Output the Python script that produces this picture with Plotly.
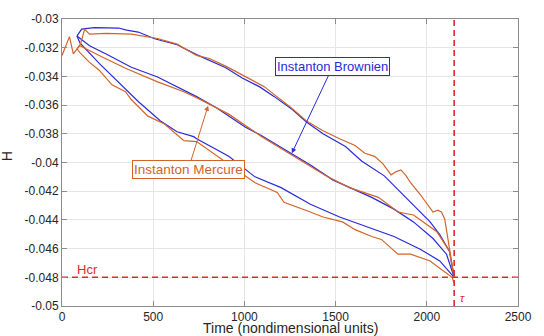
import plotly.graph_objects as go

# ---- data ----
brown_top_t = [82, 108, 178, 311, 354, 418, 508, 631, 738, 807, 898, 988, 1084, 1164, 1255, 1340, 1431, 1554, 1644, 1767, 1858, 1948, 2018, 2071, 2124, 2150]
brown_top_h = [-0.03118, -0.0307, -0.0306, -0.03063, -0.03077, -0.03091, -0.03138, -0.03179, -0.03248, -0.03288, -0.0334, -0.03411, -0.03473, -0.03541, -0.03623, -0.03718, -0.038, -0.03889, -0.03991, -0.04093, -0.04209, -0.04325, -0.04414, -0.04502, -0.04618, -0.048]

brown_mid_t = [82, 151, 258, 380, 524, 631, 738, 844, 1004, 1095, 1255, 1362, 1484, 1607, 1698, 1820, 1927, 2034, 2108, 2150]
brown_mid_h = [-0.03118, -0.03186, -0.03254, -0.03336, -0.03404, -0.03473, -0.03541, -0.03616, -0.03752, -0.03814, -0.03936, -0.04018, -0.04121, -0.04189, -0.04243, -0.04325, -0.04414, -0.0453, -0.04639, -0.048]

brown_low_t = [82, 98, 204, 295, 418, 540, 631, 722, 738, 914, 1058, 1201, 1362, 1522, 1698, 1820, 1964, 2071, 2150]
brown_low_h = [-0.03118, -0.03166, -0.03309, -0.03425, -0.03575, -0.03711, -0.03786, -0.0382, -0.03834, -0.03957, -0.041, -0.04175, -0.04291, -0.0438, -0.04461, -0.04516, -0.04604, -0.04686, -0.048]

merc_top_t = [0, 41, 62, 83, 101, 124, 151, 242, 380, 524, 631, 738, 808, 900, 988, 1111, 1164, 1255, 1340, 1431, 1522, 1607, 1660, 1714, 1760, 1804, 1830, 1858, 1885, 1911, 1964, 2034, 2060, 2080, 2098, 2124, 2150]
merc_top_h = [-0.03254, -0.03123, -0.03243, -0.03209, -0.03175, -0.03072, -0.03106, -0.031, -0.03106, -0.03136, -0.03175, -0.03254, -0.03275, -0.0333, -0.03391, -0.03473, -0.03527, -0.03616, -0.03711, -0.03779, -0.03835, -0.03882, -0.03936, -0.03957, -0.0401, -0.04086, -0.04065, -0.04052, -0.0409, -0.04141, -0.04223, -0.04345, -0.04332, -0.04345, -0.04393, -0.04598, -0.048]

merc_mid_t = [83, 98, 204, 348, 524, 668, 738, 914, 1095, 1271, 1447, 1575, 1607, 1735, 1842, 1927, 2055, 2124, 2150]
merc_mid_h = [-0.03209, -0.03186, -0.03254, -0.03343, -0.03438, -0.03507, -0.03548, -0.03663, -0.0382, -0.03957, -0.04093, -0.04175, -0.04189, -0.04243, -0.04345, -0.04366, -0.04482, -0.04618, -0.048]

merc_low_t = [83, 98, 151, 204, 274, 348, 380, 471, 562, 668, 738, 1004, 1058, 1180, 1217, 1362, 1431, 1538, 1607, 1698, 1751, 1842, 1911, 2018, 2108, 2140, 2150]
merc_low_h = [-0.03209, -0.03234, -0.03302, -0.03357, -0.03459, -0.03507, -0.03561, -0.03677, -0.03732, -0.03848, -0.03854, -0.04093, -0.04141, -0.04209, -0.04277, -0.04345, -0.0438, -0.04414, -0.04468, -0.04516, -0.04536, -0.04639, -0.04639, -0.04686, -0.04775, -0.04802, -0.04843]

h_cr = -0.048
tau = 2150
x_ticks = [0, 500, 1000, 1500, 2000, 2500]
y_ticks = [-0.05, -0.048, -0.046, -0.044, -0.042, -0.04, -0.038, -0.036, -0.034, -0.032, -0.03]
y_tick_text = ["-0.05", "-0.048", "-0.046", "-0.044", "-0.042", "-0.04", "-0.038", "-0.036", "-0.034", "-0.032", "-0.03"]

BLUE = "#2a2ad8"
ORANGE = "#d2642a"
RED = "#e3262b"

fig = go.Figure()
for t, h in [(brown_top_t, brown_top_h), (brown_mid_t, brown_mid_h), (brown_low_t, brown_low_h)]:
    fig.add_trace(go.Scatter(x=t, y=h, mode="lines", line=dict(color=BLUE, width=1.2), showlegend=False))
for t, h in [(merc_top_t, merc_top_h), (merc_mid_t, merc_mid_h), (merc_low_t, merc_low_h)]:
    fig.add_trace(go.Scatter(x=t, y=h, mode="lines", line=dict(color=ORANGE, width=1.2), showlegend=False))

# red dashed critical lines
fig.add_trace(go.Scatter(x=[0, 2500], y=[h_cr, h_cr], mode="lines",
                         line=dict(color=RED, width=1.6, dash="6px,4px"), showlegend=False))
fig.add_trace(go.Scatter(x=[tau, tau], y=[-0.05, -0.03], mode="lines",
                         line=dict(color=RED, width=1.6, dash="6px,4px"), showlegend=False))

font_main = "Liberation Sans, Arial, Helvetica, sans-serif"

fig.add_annotation(x=1260, y=-0.03936, xref="x", yref="y", text="Instanton Brownien",
                   showarrow=True, ax=41, ay=-87, arrowhead=2, arrowsize=1, arrowwidth=1,
                   arrowcolor=BLUE, font=dict(color=BLUE, size=13, family=font_main),
                   bordercolor=BLUE, borderwidth=1, borderpad=1, bgcolor="white")
fig.add_annotation(x=801, y=-0.03605, xref="x", yref="y", text="Instanton Mercure",
                   showarrow=True, ax=-20, ay=64, arrowhead=2, arrowsize=1, arrowwidth=1,
                   arrowcolor=ORANGE, font=dict(color=ORANGE, size=13.5, family=font_main),
                   bordercolor=ORANGE, borderwidth=1, borderpad=1, bgcolor="white")
fig.add_annotation(x=70, y=-0.04745, xref="x", yref="y", text="Hcr", showarrow=False,
                   xanchor="left", font=dict(color=RED, size=13, family=font_main))
fig.add_annotation(x=2195, y=-0.04945, xref="x", yref="y", text="<i>τ</i>", showarrow=False,
                   font=dict(color=RED, size=11, family=font_main))
fig.add_annotation(x=0.5, y=-0.075, xref="paper", yref="paper", text="Time (nondimensional units)",
                   showarrow=False, yanchor="middle", font=dict(color="#262626", size=14, family=font_main))
fig.add_annotation(x=-0.1207, y=0.522, xref="paper", yref="paper", text="H", textangle=-90,
                   showarrow=False, xanchor="center", font=dict(color="#262626", size=14, family=font_main))

axis_common = dict(showgrid=True, gridcolor="#e6e6e6", gridwidth=1, zeroline=False,
                   showline=True, linecolor="#8c8c8c", linewidth=1, mirror="ticks",
                   ticks="inside", ticklen=5, tickcolor="#8c8c8c",
                   tickfont=dict(color="#262626", size=12, family=font_main))

fig.update_xaxes(range=[0, 2500], tickvals=x_ticks, ticktext=[str(v) for v in x_ticks], **axis_common)
fig.update_yaxes(range=[-0.05, -0.03], tickvals=y_ticks, ticktext=y_tick_text, **axis_common)

fig.update_layout(width=544, height=336, margin=dict(l=62, r=14, t=13, b=30),
                  paper_bgcolor="white", plot_bgcolor="white", showlegend=False)

# remove the default page margin so the figure fills the window exactly
fig.write_html("out.html", config={"displayModeBar": False},
               post_script="document.body.style.margin='0px';document.body.style.overflow='hidden';")
